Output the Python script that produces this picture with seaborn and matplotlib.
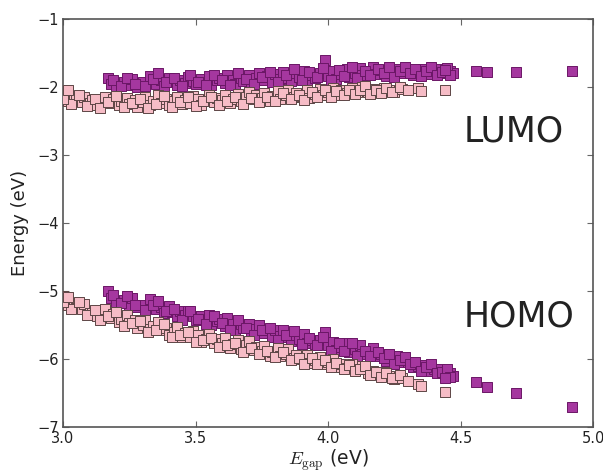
import numpy as np
import pandas as pd
import matplotlib
matplotlib.use("Agg")
import matplotlib.pyplot as plt
import seaborn as sns

# ---- data ----
pink_gap = [3.00, 3.01, 3.02, 3.04, 3.05, 3.07, 3.08, 3.10, 3.11, 3.13,
            3.15, 3.16, 3.18, 3.19, 3.21, 3.22, 3.24, 3.25, 3.27, 3.28,
            3.30, 3.31, 3.33, 3.34, 3.36, 3.37, 3.39, 3.40, 3.42, 3.43,
            3.45, 3.46, 3.48, 3.49, 3.51, 3.52, 3.54, 3.55, 3.57, 3.58,
            3.60, 3.61, 3.63, 3.64, 3.66, 3.67, 3.69, 3.70, 3.72, 3.73,
            3.75, 3.76, 3.78, 3.79, 3.81, 3.82, 3.84, 3.85, 3.87, 3.88,
            3.90, 3.92, 3.93, 3.95, 3.97, 3.98, 4.00, 4.02, 4.04, 4.05,
            4.07, 4.09, 4.11, 4.13, 4.15, 4.17, 4.19, 4.21, 4.23, 4.25,
            4.28, 4.34, 4.35, 4.44,
            3.03, 3.06, 3.09, 3.12, 3.14, 3.17, 3.20, 3.23, 3.26, 3.29,
            3.32, 3.35, 3.38, 3.41, 3.44, 3.47, 3.50, 3.53, 3.56, 3.59,
            3.62, 3.65, 3.68, 3.71, 3.74, 3.77, 3.80, 3.83, 3.86, 3.89,
            3.91, 3.94, 3.96, 3.99, 4.01, 4.03, 4.06, 4.08, 4.10, 4.12,
            4.14, 4.16, 4.18, 4.20, 4.22, 4.24, 4.27, 4.30, 3.00, 3.02]
pink_lumo = [-2.10, -2.16, -2.20, -2.13, -2.18, -2.22, -2.15, -2.24, -2.19, -2.27,
             -2.20, -2.14, -2.24, -2.18, -2.27, -2.21, -2.16, -2.25, -2.19, -2.29,
             -2.22, -2.15, -2.26, -2.20, -2.12, -2.24, -2.18, -2.27, -2.21, -2.14,
             -2.25, -2.19, -2.23, -2.13, -2.17, -2.26, -2.20, -2.11, -2.22, -2.16,
             -2.19, -2.12, -2.24, -2.17, -2.10, -2.21, -2.14, -2.07, -2.18, -2.12,
             -2.16, -2.09, -2.20, -2.13, -2.06, -2.17, -2.11, -2.04, -2.15, -2.09,
             -2.13, -2.05, -2.16, -2.10, -2.03, -2.12, -2.08, -2.01, -2.11, -2.05,
             -2.09, -2.02, -2.07, -2.00, -2.08, -2.03, -2.06, -2.01, -2.05, -2.08,
             -2.03, -2.01, -2.06, -2.04,
             -2.25, -2.12, -2.28, -2.17, -2.31, -2.22, -2.13, -2.30, -2.23, -2.17,
             -2.31, -2.25, -2.13, -2.29, -2.22, -2.15, -2.28, -2.21, -2.15, -2.27,
             -2.20, -2.14, -2.25, -2.16, -2.22, -2.14, -2.20, -2.09, -2.18, -2.12,
             -2.19, -2.07, -2.15, -2.05, -2.14, -2.06, -2.12, -2.04, -2.10, -2.05,
             -1.99, -2.10, -2.04, -2.09, -2.02, -2.07, -2.00, -2.05, -2.18, -2.05]
pink_homo = [-5.08, -5.15, -5.20, -5.21, -5.25, -5.27, -5.19, -5.32, -5.33, -5.37,
             -5.31, -5.26, -5.40, -5.34, -5.45, -5.41, -5.36, -5.47, -5.43, -5.54,
             -5.50, -5.42, -5.56, -5.51, -5.45, -5.58, -5.55, -5.64, -5.60, -5.53,
             -5.67, -5.62, -5.68, -5.59, -5.65, -5.75, -5.71, -5.63, -5.76, -5.70,
             -5.77, -5.69, -5.84, -5.78, -5.72, -5.85, -5.80, -5.74, -5.87, -5.82,
             -5.88, -5.81, -5.95, -5.89, -5.84, -5.96, -5.92, -5.86, -5.99, -5.94,
             -6.00, -5.94, -6.06, -6.02, -5.97, -6.07, -6.05, -6.00, -6.12, -6.07,
             -6.13, -6.08, -6.15, -6.10, -6.20, -6.17, -6.22, -6.19, -6.25, -6.30,
             -6.28, -6.37, -6.40, -6.49,
             -5.27, -5.16, -5.36, -5.28, -5.43, -5.37, -5.31, -5.51, -5.47, -5.44,
             -5.60, -5.58, -5.48, -5.67, -5.64, -5.60, -5.75, -5.72, -5.69, -5.83,
             -5.79, -5.76, -5.90, -5.84, -5.93, -5.88, -5.97, -5.89, -6.01, -5.98,
             -6.07, -5.98, -6.08, -6.01, -6.12, -6.06, -6.15, -6.09, -6.17, -6.14,
             -6.10, -6.23, -6.19, -6.26, -6.21, -6.28, -6.24, -6.32, -5.16, -5.09]

purple_gap = [3.17, 3.18, 3.20, 3.23, 3.25, 3.26, 3.28, 3.30, 3.33, 3.35,
              3.37, 3.38, 3.40, 3.41, 3.43, 3.44, 3.46, 3.47, 3.49, 3.50,
              3.52, 3.53, 3.55, 3.56, 3.58, 3.59, 3.61, 3.62, 3.64, 3.65,
              3.67, 3.68, 3.70, 3.71, 3.73, 3.74, 3.76, 3.77, 3.79, 3.80,
              3.82, 3.83, 3.85, 3.86, 3.88, 3.89, 3.91, 3.92, 3.94, 3.95,
              3.97, 3.99, 4.00, 4.02, 4.03, 4.05, 4.07, 4.08, 4.10, 4.12,
              4.13, 4.15, 4.17, 4.18, 4.20, 4.22, 4.24, 4.26, 4.28, 4.30,
              4.32, 4.34, 4.36, 4.38, 4.40, 4.42, 4.44, 4.46, 4.47,
              4.56, 4.60, 4.71, 4.92,
              3.19, 3.22, 3.24, 3.27, 3.31, 3.34, 3.36, 3.39, 3.42, 3.45,
              3.48, 3.51, 3.54, 3.57, 3.60, 3.63, 3.66, 3.69, 3.72, 3.75,
              3.78, 3.81, 3.84, 3.87, 3.90, 3.93, 3.96, 3.98, 4.01, 4.04,
              4.06, 4.09, 4.11, 4.14, 4.16, 4.19, 4.21, 4.23, 4.25, 4.27,
              4.29, 4.31, 4.33, 4.35, 4.37, 4.39, 4.41, 4.43, 4.45, 4.46, 4.44]
purple_lumo = [-1.86, -1.95, -1.99, -1.92, -1.97, -1.88, -2.00, -1.93, -1.84, -1.95,
               -1.90, -1.98, -1.86, -1.93, -1.97, -1.89, -1.94, -1.85, -1.91, -1.96,
               -1.88, -1.93, -1.84, -1.97, -1.90, -1.86, -1.94, -1.82, -1.89, -1.95,
               -1.86, -1.91, -1.83, -1.93, -1.87, -1.80, -1.90, -1.84, -1.92, -1.81,
               -1.88, -1.78, -1.86, -1.91, -1.80, -1.85, -1.76, -1.89, -1.82, -1.87,
               -1.79, -1.60, -1.84, -1.77, -1.88, -1.81, -1.74, -1.85, -1.79, -1.72,
               -1.83, -1.77, -1.70, -1.81, -1.75, -1.84, -1.78, -1.73, -1.80, -1.76,
               -1.83, -1.79, -1.74, -1.81, -1.77, -1.73, -1.80, -1.76, -1.79,
               -1.77, -1.78, -1.78, -1.77,
               -1.89, -1.98, -1.86, -1.95, -1.99, -1.88, -1.80, -1.93, -1.87, -1.99,
               -1.83, -1.92, -1.97, -1.82, -1.89, -1.97, -1.79, -1.88, -1.95, -1.85,
               -1.78, -1.93, -1.83, -1.74, -1.90, -1.78, -1.85, -1.72, -1.89, -1.75,
               -1.84, -1.70, -1.86, -1.76, -1.82, -1.73, -1.79, -1.71, -1.85, -1.76,
               -1.70, -1.79, -1.74, -1.84, -1.77, -1.71, -1.82, -1.78, -1.72, -1.83, -1.75]
purple_homo = [-5.00, -5.10, -5.17, -5.13, -5.20, -5.11, -5.24, -5.21, -5.12, -5.27,
               -5.24, -5.33, -5.22, -5.31, -5.37, -5.30, -5.36, -5.29, -5.37, -5.43,
               -5.37, -5.42, -5.35, -5.50, -5.44, -5.41, -5.52, -5.40, -5.49, -5.57,
               -5.49, -5.55, -5.48, -5.60, -5.56, -5.50, -5.62, -5.57, -5.67, -5.57,
               -5.66, -5.57, -5.67, -5.73, -5.64, -5.70, -5.63, -5.77, -5.72, -5.78,
               -5.72, -5.60, -5.80, -5.75, -5.87, -5.82, -5.77, -5.89, -5.85, -5.80,
               -5.93, -5.88, -5.84, -5.96, -5.92, -6.03, -5.99, -5.96, -6.05, -6.04,
               -6.12, -6.10, -6.09, -6.17, -6.15, -6.14, -6.22, -6.21, -6.25,
               -6.34, -6.41, -6.50, -6.71,
               -5.06, -5.18, -5.08, -5.20, -5.28, -5.20, -5.14, -5.30, -5.27, -5.42,
               -5.29, -5.41, -5.49, -5.37, -5.47, -5.58, -5.43, -5.55, -5.65, -5.58,
               -5.54, -5.72, -5.65, -5.59, -5.78, -5.69, -5.79, -5.68, -5.88, -5.77,
               -5.88, -5.77, -5.95, -5.88, -5.96, -5.90, -5.98, -5.92, -6.08, -6.01,
               -5.97, -6.08, -6.05, -6.17, -6.12, -6.08, -6.21, -6.19, -6.15, -6.27, -6.28]

x_ticks = [3.0, 3.5, 4.0, 4.5, 5.0]
y_ticks = [-7, -6, -5, -4, -3, -2, -1]
band_labels = ["LUMO", "HOMO"]

# ---- style ----
sns.set_style("white")
plt.rcParams['font.family'] = ['DejaVu Sans']
plt.rcParams['mathtext.fontset'] = 'cm'

fig = plt.figure(figsize=(6.03, 4.76), dpi=100)
ax = fig.add_axes([0.1045, 0.103, 0.879, 0.857])

purple_face = "#a5379f"
purple_edge = "#6b1766"
pink_face = "#f6bcc6"
pink_edge = "#5e4646"

df_purple = pd.DataFrame({"gap": purple_gap * 2,
                          "energy": purple_lumo + purple_homo})
df_pink = pd.DataFrame({"gap": pink_gap * 2,
                        "energy": pink_lumo + pink_homo})

sns.scatterplot(data=df_purple, x="gap", y="energy", ax=ax, marker="s",
                s=42, color=purple_face, edgecolor=purple_edge, linewidth=0.7,
                legend=False, zorder=2)
sns.scatterplot(data=df_pink, x="gap", y="energy", ax=ax, marker="s",
                s=42, color=pink_face, edgecolor=pink_edge, linewidth=0.7,
                legend=False, zorder=3)

ax.set_xlim(3.0, 5.0)
ax.set_ylim(-7, -1)
ax.set_xticks(x_ticks)
ax.set_yticks(y_ticks)
ax.set_xticklabels([f"{t:.1f}" for t in x_ticks])
ax.set_yticklabels([f"\u2212{abs(t)}" for t in y_ticks])
ax.tick_params(direction="in", length=4, width=0.8, colors="#666666",
               labelcolor="#222222", labelsize=10.5, top=True, right=True,
               bottom=True, left=True, pad=3)
for sp in ax.spines.values():
    sp.set_color("#555555")
    sp.set_linewidth(1.2)

ax.set_xlabel(r"$E_{\rm gap}$ (eV)", fontsize=13.5, color="#222222", labelpad=1)
ax.set_ylabel("Energy (eV)", fontsize=13, color="#222222", labelpad=6)

ax.text(4.51, -2.65, band_labels[0], fontsize=25, color="#222222",
        ha="left", va="center")
ax.text(4.51, -5.38, band_labels[1], fontsize=25, color="#222222",
        ha="left", va="center")

fig.savefig("out.png", dpi=100)
